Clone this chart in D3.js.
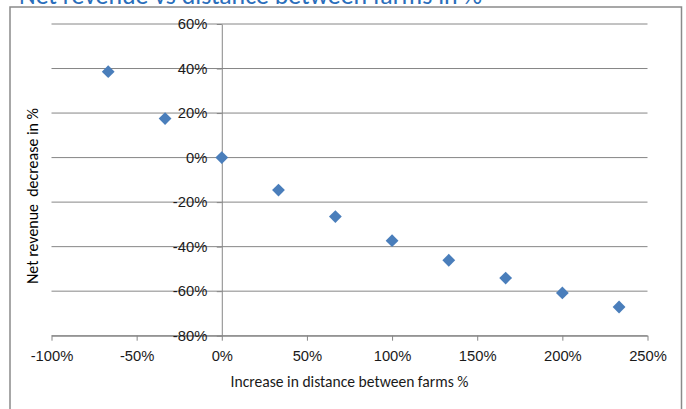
<!DOCTYPE html>
<html>
<head>
<meta charset="utf-8">
<script src="https://cdn.jsdelivr.net/npm/d3@7"></script>
<style>
  html, body { margin: 0; padding: 0; background: #fff; overflow: hidden; }
  svg { display: block; font-family: Carlito, Calibri, Lato, "Open Sans", sans-serif; }
</style>
</head>
<body>
<svg id="chart" width="686" height="409"></svg>
<script>
// Relative increase in distance between farms (%)
const distanceIncrease = [-66.7, -33.3, 0, 33.3, 66.7, 100, 133.3, 166.7, 200, 233.3];
// Net revenue decrease (%)
const revenueDecrease = [38.6, 17.5, 0, -14.6, -26.5, -37.3, -46.1, -54.1, -60.8, -67.1];
// Axis tick values (%)
const xTicks = [-100, -50, 0, 50, 100, 150, 200, 250];
const yTicks = [60, 40, 20, 0, -20, -40, -60, -80];

const titleText = "Net revenue vs distance between farms in %";
const xTitle = "Increase in distance between farms %";
const yTitle = "Net revenue  decrease in %";

const svg = d3.select("#chart");
const plot = { left: 51.5, right: 647.5, top: 24, bottom: 335.7 };

const x = d3.scaleLinear().domain([-100, 250]).range([plot.left, plot.right]);
const y = d3.scaleLinear().domain([-80, 60]).range([plot.bottom, plot.top]);

const grey = "#868686";
const textColor = "#1a1a1a";

// Font size that makes a sample string span a given width
function sizeFor(sample, width) {
  const t = svg.append("text").attr("font-size", 20).style("white-space", "pre").text(sample);
  const w = t.node().getComputedTextLength();
  t.remove();
  return 20 * width / w;
}
const tickSize = sizeFor("100%", 33);
const xTitleSize = sizeFor(xTitle, 238);
const yTitleSize = sizeFor(yTitle, 176);
const titleSize = sizeFor(titleText, 463);

// Chart frame
svg.append("rect")
  .attr("x", 10).attr("y", 7)
  .attr("width", 671.5).attr("height", 420)
  .attr("fill", "#fff")
  .attr("stroke", "#8a8a8a").attr("stroke-width", 1.5);

// Title, sitting on the top edge of the frame
svg.append("text")
  .attr("x", 19).attr("y", 4)
  .attr("fill", "#2A6EBB")
  .attr("font-size", titleSize)
  .text(titleText);

// Horizontal gridlines
svg.append("g")
  .selectAll("line")
  .data(yTicks)
  .join("line")
  .attr("x1", plot.left).attr("x2", plot.right)
  .attr("y1", d => y(d)).attr("y2", d => y(d))
  .attr("stroke", grey).attr("stroke-width", 1);

// Horizontal axis along the bottom of the plot
const xAxis = d3.axisBottom(x)
  .tickValues(xTicks)
  .tickSize(5)
  .tickSizeOuter(0)
  .tickPadding(10)
  .tickFormat(d => d + "%");
const gx = svg.append("g")
  .attr("transform", `translate(0,${plot.bottom})`)
  .call(xAxis);
gx.select(".domain").attr("stroke", grey);
gx.selectAll(".tick line").attr("stroke", grey);
gx.selectAll(".tick text")
  .attr("fill", textColor)
  .attr("font-size", tickSize)
  .attr("font-family", null);

// Vertical axis crossing at x = 0
const yAxis = d3.axisLeft(y)
  .tickValues(yTicks)
  .tickSize(5)
  .tickSizeOuter(0)
  .tickPadding(9.5)
  .tickFormat(d => d + "%");
const gy = svg.append("g")
  .attr("transform", `translate(${x(0)},0)`)
  .call(yAxis);
gy.select(".domain").attr("stroke", grey);
gy.selectAll(".tick line").attr("stroke", grey);
gy.selectAll(".tick text")
  .attr("fill", textColor)
  .attr("font-size", tickSize)
  .attr("font-family", null);

// Axis titles
svg.append("text")
  .attr("x", (plot.left + plot.right) / 2)
  .attr("y", 387)
  .attr("text-anchor", "middle")
  .attr("fill", textColor)
  .attr("font-size", xTitleSize)
  .text(xTitle);

svg.append("text")
  .attr("transform", "translate(38,196) rotate(-90)")
  .attr("text-anchor", "middle")
  .attr("fill", "#000")
  .attr("font-size", yTitleSize)
  .style("white-space", "pre")
  .text(yTitle);

// Scatter markers (diamonds)
const points = distanceIncrease.map((d, i) => ({ x: d, y: revenueDecrease[i] }));
const diamond = d3.symbol().type(d3.symbolSquare).size(82);
svg.append("g")
  .selectAll("path")
  .data(points)
  .join("path")
  .attr("d", diamond)
  .attr("transform", d => `translate(${x(d.x)},${y(d.y)}) rotate(45)`)
  .attr("fill", "#4A7EBB");
</script>
</body>
</html>
